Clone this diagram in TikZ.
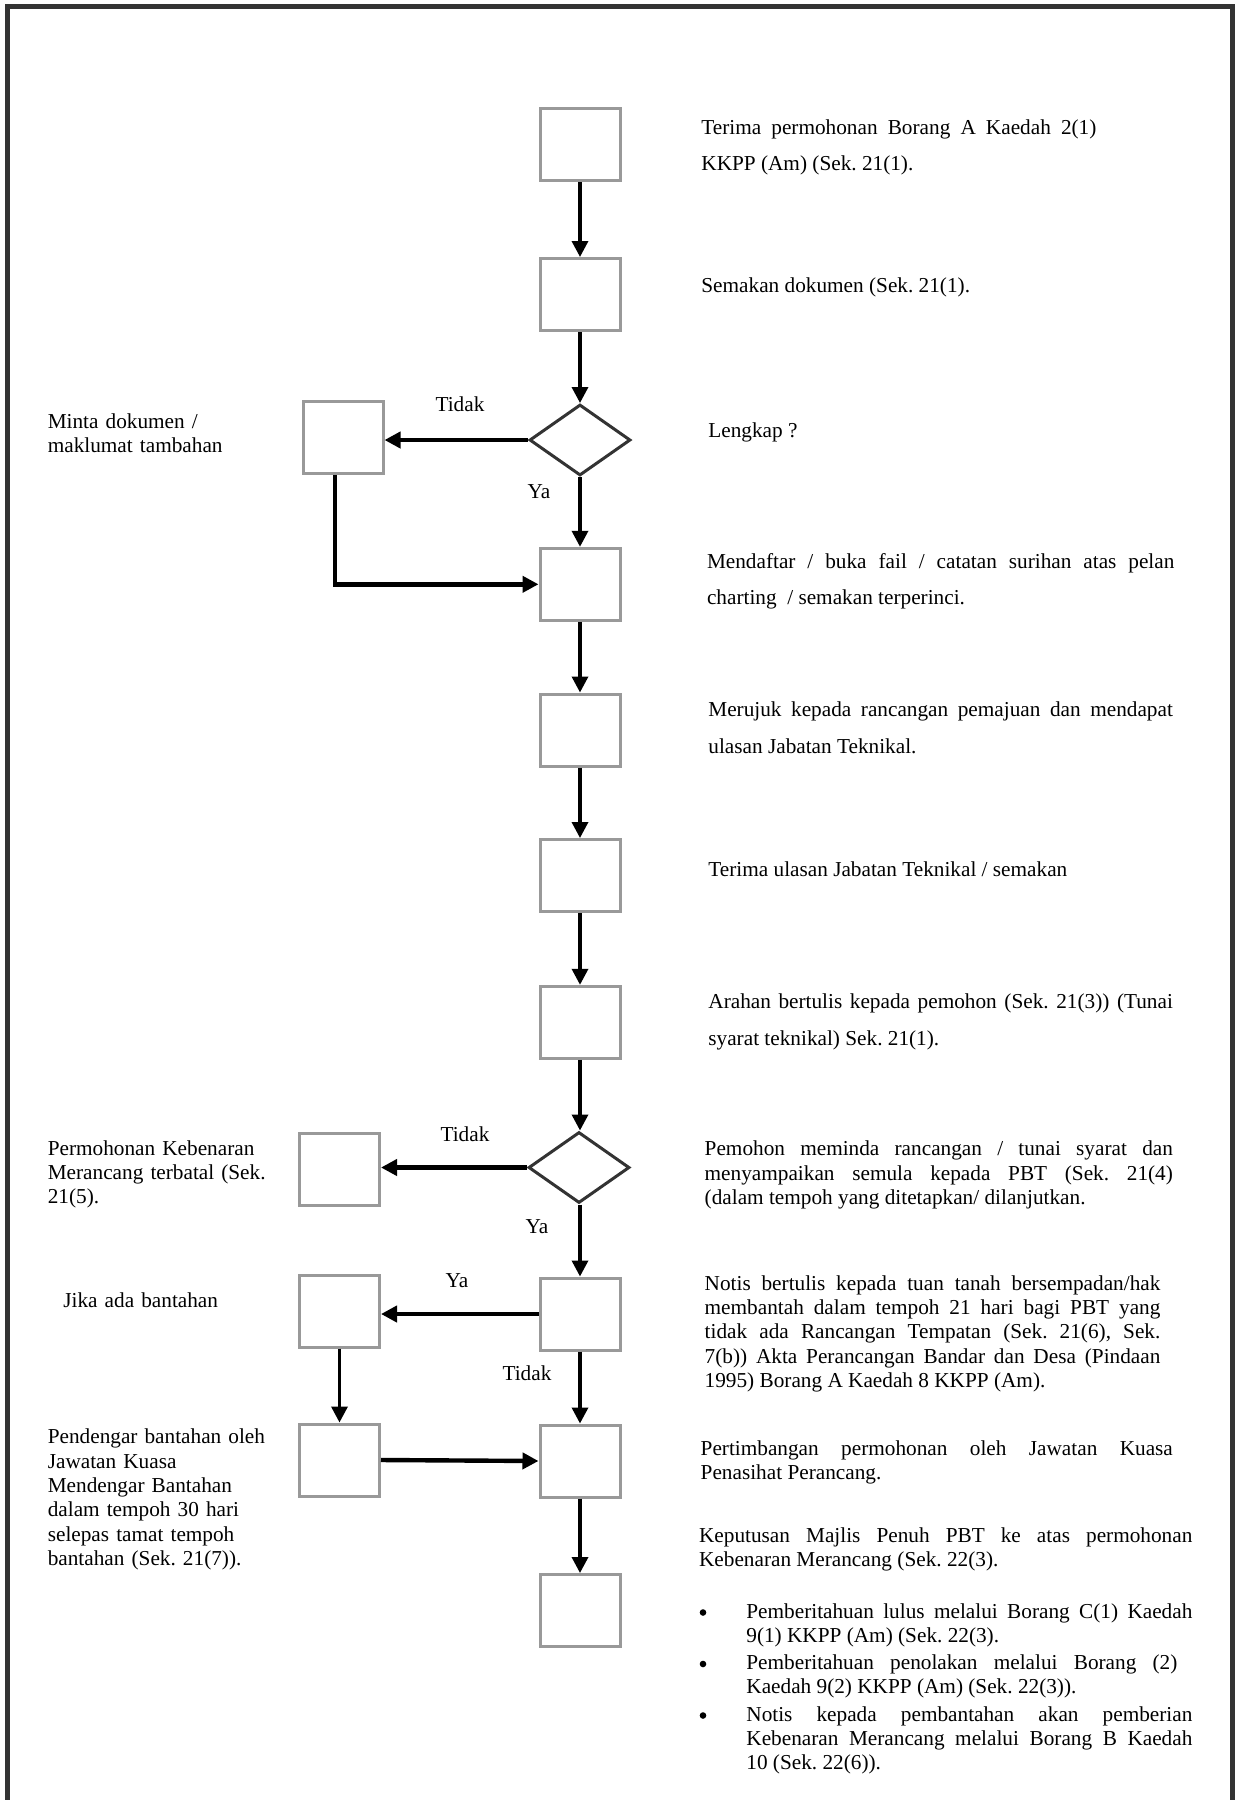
\documentclass[tikz,border=0pt]{standalone}
\usepackage{fontspec}
\setmainfont{Liberation Serif}
\usetikzlibrary{arrows.meta,shapes.geometric}
\definecolor{boxgray}{HTML}{999999}
\definecolor{darkline}{HTML}{333333}
\newcommand{\fsA}{\fontsize{10.63}{18.25}\selectfont}
\newcommand{\fsB}{\fontsize{10.63}{12.15}\selectfont}
\hyphenpenalty=10000
\frenchspacing
\begin{document}
\begin{tikzpicture}[x={(0.5pt,0)}, y={(0,-0.5pt)},
 box/.style={draw=boxgray, line width=1.5pt, minimum width=40pt, minimum height=36pt, inner sep=0pt, fill=white},
 dec/.style={draw=darkline, line width=1.5pt, diamond, minimum width=50.5pt, minimum height=35.5pt, inner sep=0pt, fill=white},
 varr/.style={-{Triangle[length=8pt,width=8pt]}, line width=1.7pt},
 harr/.style={-{Triangle[length=8pt,width=8pt]}, line width=2.2pt},
 dtxt/.style={anchor=base west, inner sep=0pt, align=justify, font=\fsA},
 stxt/.style={anchor=base west, inner sep=0pt, align=justify, font=\fsB},
 ltxt/.style={anchor=base west, inner sep=0pt, align=left, font=\fsB, text width=120pt},
 lbl/.style={anchor=base, inner sep=0pt, font=\fsB},
 dot/.style={circle, fill=black, inner sep=0pt, minimum size=3.3pt}
]
\useasboundingbox (0,0) rectangle (1238,1800);
% page frame
\draw[line width=2.5pt, draw=darkline] (7.5,1800) -- (7.5,6.5) -- (1232,6.5) -- (1232,1800);

% boxes
\node[box] (b1) at (580,144.5) {};
\node[box] (b2) at (580,294.5) {};
\node[dec] (d1) at (580,440) {};
\node[box] (b4) at (580,584.3) {};
\node[box] (b5) at (580,730) {};
\node[box] (b6) at (580,875.5) {};
\node[box] (b7) at (580,1022.3) {};
\node[dec] (d2) at (579,1167.5) {};
\node[box] (b9) at (580,1314) {};
\node[box] (b10) at (580,1461) {};
\node[box] (b11) at (580,1610.5) {};
\node[box] (m) at (343,437.6) {};
\node[box] (t) at (339.5,1169.5) {};
\node[box] (j) at (339.5,1311) {};
\node[box] (p) at (339.5,1460) {};

% connectors
\draw[varr] (b1) -- (b2);
\draw[varr] (b2) -- (d1);
\draw[harr] (d1.west) -- (d1.west -| m.east);
\draw[varr] (d1) -- (b4);
\draw[harr] ([xshift=-4pt]m.south) |- (b4.west);
\draw[varr] (b4) -- (b5);
\draw[varr] (b5) -- (b6);
\draw[varr] (b6) -- (b7);
\draw[varr] (b7.south) -- (b7.south |- d2.north);
\draw[harr] (d2.west) -- (d2.west -| t.east);
\draw[varr] (d2.south -| b9.north) -- (b9.north);
\draw[harr] (b9.west) -- (b9.west -| j.east);
\draw[varr] (b9) -- (b10);
\draw[varr] (j) -- (p);
\draw[harr] (p.east) -- (b10.west);
\draw[varr] (b10) -- (b11);

% branch labels
\node[lbl] (l1) at (460,411.8) {Tidak};
\node[lbl] (l2) at (539,498.6) {Ya};
\node[lbl] (l3) at (465,1141.5) {Tidak};
\node[lbl] (l4) at (537,1233.7) {Ya};
\node[lbl] (l5) at (457,1287) {Ya};
\node[lbl] (l6) at (527,1380.6) {Tidak};

% right column texts
\node[dtxt, text width=197.5pt] (x1) at (701,134) {Terima permohonan Borang A Kaedah 2(1)\linebreak KKPP (Am) (Sek. 21(1).};
\node[dtxt, text width=200pt] (x2) at (701,292) {Semakan dokumen (Sek. 21(1).};
\node[dtxt, text width=200pt] (x3) at (708,437.4) {Lengkap ?};
\node[dtxt, text width=233.7pt] (x4) at (706.6,568.3) {Mendaftar / buka fail / catatan surihan atas pelan\linebreak charting \ / semakan terperinci.};
\node[dtxt, text width=232.25pt] (x5) at (708,716.7) {Merujuk kepada rancangan pemajuan dan mendapat\linebreak ulasan Jabatan Teknikal.};
\node[dtxt, text width=232.25pt] (x6) at (708,876.3) {Terima ulasan Jabatan Teknikal / semakan};
\node[dtxt, text width=232.25pt] (x7) at (708,1008.7) {Arahan bertulis kepada pemohon (Sek. 21(3)) (Tunai\linebreak syarat teknikal) Sek. 21(1).};
\node[stxt, text width=234.1pt] (x8) at (704.3,1155.7) {Pemohon meminda rancangan / tunai syarat dan\linebreak menyampaikan semula kepada PBT (Sek. 21(4)\linebreak (dalam tempoh yang ditetapkan/ dilanjutkan.};
\node[stxt, text width=227.85pt] (x9) at (704.3,1290.3) {Notis bertulis kepada tuan tanah bersempadan/hak\linebreak membantah dalam tempoh 21 hari bagi PBT yang\linebreak tidak ada Rancangan Tempatan (Sek. 21(6), Sek.\linebreak 7(b)) Akta Perancangan Bandar dan Desa (Pindaan\linebreak 1995) Borang A Kaedah 8 KKPP (Am).};
\node[stxt, text width=236.1pt] (x10) at (700.3,1455.6) {Pertimbangan permohonan oleh Jawatan Kuasa\linebreak Penasihat Perancang.};
\node[stxt, text width=246.65pt] (x11) at (698.7,1542.5) {Keputusan Majlis Penuh PBT ke atas permohonan\linebreak Kebenaran Merancang (Sek. 22(3).};

% bullet list
\node[dot] (u1) at (703,1612.5) {};
\node[dot] (u2) at (703,1664) {};
\node[dot] (u3) at (703,1715.5) {};
\node[stxt, text width=223pt] (y1) at (746,1618) {Pemberitahuan lulus melalui Borang C(1) Kaedah\linebreak 9(1) KKPP (Am) (Sek. 22(3).};
\node[stxt, text width=215.5pt] (y2) at (746,1669.5) {Pemberitahuan penolakan melalui Borang (2)\linebreak Kaedah 9(2) KKPP (Am) (Sek. 22(3)).};
\node[stxt, text width=223pt] (y3) at (746,1721) {Notis kepada pembantahan akan pemberian\linebreak Kebenaran Merancang melalui Borang B Kaedah\linebreak 10 (Sek. 22(6)).};

% left column texts
\node[ltxt] (z1) at (47.4,428.6) {Minta dokumen /\\ maklumat tambahan};
\node[ltxt] (z2) at (47.4,1155) {Permohonan Kebenaran\\ Merancang terbatal (Sek.\\ 21(5).};
\node[ltxt] (z3) at (63,1307) {Jika ada bantahan};
\node[ltxt] (z4) at (47.4,1443.8) {Pendengar bantahan oleh\\ Jawatan Kuasa\\ Mendengar Bantahan\\ dalam tempoh 30 hari\\ selepas tamat tempoh\\ bantahan (Sek. 21(7)).};
\end{tikzpicture}
\end{document}
